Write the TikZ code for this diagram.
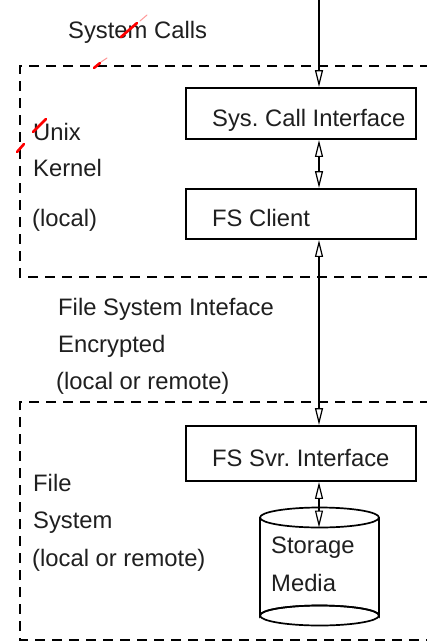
\documentclass[tikz,border=0pt]{standalone}
\usepackage{fontspec}
\setmainfont{Liberation Sans}
\usetikzlibrary{arrows.meta}
\frenchspacing
\begin{document}
\begin{tikzpicture}[x=1pt,y=-1pt,
  txt/.style={inner sep=0pt,anchor=base west,font=\fontsize{23.8}{28}\selectfont\frenchspacing,text=black!88},
  box/.style={draw,line width=1.9pt,minimum width=230pt,inner sep=0pt},
  region/.style={line width=1.9pt,dash pattern=on 10pt off 7pt},
  arr/.style={line width=1.6pt,-{Triangle[open,length=17pt,width=8pt,line width=1.2pt]}},
  darr/.style={line width=1.6pt,{Triangle[open,length=17pt,width=8pt,line width=1.2pt]}-{Triangle[open,length=17pt,width=8pt,line width=1.2pt]}},
  redmark/.style={red,line width=2.6pt,line cap=round}]
\useasboundingbox (0,0) rectangle (427,641);
\fill[white] (0,0) rectangle (427,641);

% dashed regions
\draw[region] (430,66) -- (20,66) -- (20,277) -- (430,277);
\draw[region] (430,402) -- (20,402) -- (20,640) -- (430,640);

% boxes
\node[box,minimum height=51pt] (sci) at (301,113.5) {};
\node[box,minimum height=50pt] (fsc) at (301,214) {};
\node[box,minimum height=55pt] (fss) at (301,453.5) {};

% cylinder
\draw[line width=1.7pt,fill=white] (260,517.5) -- (260,615.5) arc[start angle=180,end angle=360,x radius=59.5,y radius=10] -- (379,517.5);
\draw[line width=1.7pt] (319.5,615.5) ellipse[x radius=59.5,y radius=10];
\draw[line width=1.7pt,fill=white] (319.5,517.5) ellipse[x radius=59.5,y radius=10];
\coordinate (cyl) at (319,527.5);

% texts
\node[txt] (tsc) at (68,38) {System Calls};
\node[txt] (tsci) at (212,126.7) {Sys. Call Interface};
\node[txt] (tunix) at (33,140) {Unix};
\node[txt] (tkern) at (33,176.7) {Kernel};
\node[txt] (tloc) at (32,226.7) {(local)};
\node[txt] (tfsc) at (212,226.7) {FS Client};
\node[txt] (tfsi) at (58,315.5) {File System Inteface};
\node[txt] (tenc) at (58,352.5) {Encrypted};
\node[txt] (tlor) at (56,389.5) {(local or remote)};
\node[txt] (tfss) at (212,466.7) {FS Svr. Interface};
\node[txt] (tfile) at (33,491.7) {File};
\node[txt] (tsys) at (33,528.5) {System};
\node[txt] (tlor2) at (32,566.7) {(local or remote)};
\node[txt] (tsto) at (271,553.3) {Storage};
\node[txt] (tmed) at (271,591.7) {Media};

% connectors
\coordinate (top) at (319,0);
\draw[arr] (top) -- (top |- sci.north);
\draw[darr] (sci.south -| top) -- (fsc.north -| top);
\draw[darr] (fsc.south -| top) -- (fss.north -| top);
\draw[darr] (fss.south -| top) -- (cyl);

% red marks
\draw[redmark] (121,37) -- (137,23);
\draw[redmark,line width=1pt,red!40] (140,21) -- (147,15);
\draw[redmark] (94,68) -- (100,63);
\draw[redmark,line width=1pt,red!40] (101,62) -- (107,58);
\draw[redmark] (33,132) -- (46,119);
\draw[redmark] (17,152) -- (24,144);
\end{tikzpicture}
\end{document}
